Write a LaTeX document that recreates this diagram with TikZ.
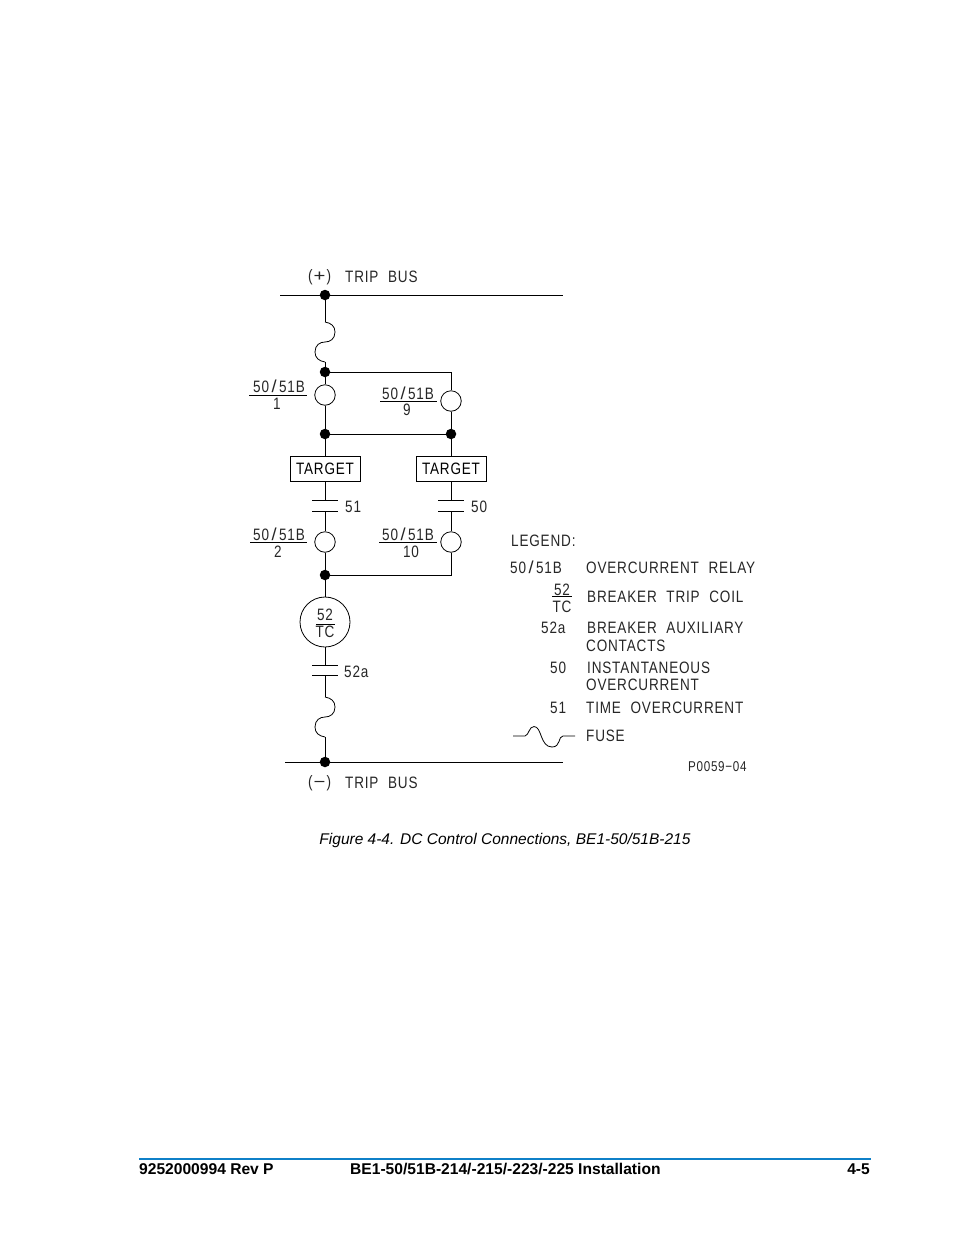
\documentclass[tikz,border=0pt]{standalone}
\usepackage{fontspec}
\usepackage{graphicx}
\setmainfont{Liberation Sans}
\newfontfamily\cadfont[FakeStretch=0.82,LetterSpace=5,WordSpace=2.1]{Liberation Sans}
\usetikzlibrary{calc}
\definecolor{footblue}{HTML}{0F80C8}
\newcommand{\relayname}{50\kern2.5pt\scalebox{1.35}[1.05]{/}\kern2.5pt 51B}
\newcommand{\wideglyph}[1]{(\kern1pt\scalebox{1.5}[1]{#1}\kern1pt)}
\tikzset{
 wire/.style={line width=1pt,black},
 thin wire/.style={line width=0.8pt,black},
 dot/.style={circle,fill=black,inner sep=0pt,minimum size=10.5pt},
 relay/.style={circle,draw,line width=0.8pt,inner sep=0pt,minimum size=20.5pt},
 coil/.style={circle,draw,line width=0.8pt,inner sep=0pt,minimum size=50pt},
 targetbox/.style={draw,line width=1pt,minimum width=70pt,minimum height=25pt,inner sep=0pt,font=\cadfont\fontsize{16.5}{18}\selectfont},
 cad/.style={font=\cadfont\fontsize{16.5}{18}\selectfont,inner sep=0pt,text=black!85},
 cadw/.style={cad,anchor=west},
 cade/.style={cad,anchor=east},
 foot/.style={font=\bfseries\fontsize{15.6}{18}\selectfont,inner sep=0pt,anchor=base west},
}
\newcommand{\fusepath}[2]{% vertical fuse, 40 px tall
 \draw[thin wire] (#1) .. controls ($(#1)+(6,1)$) and ($(#1)+(10,4)$) .. ($(#1)+(10,10)$)
   .. controls ($(#1)+(10,17)$) and ($(#1)+(5,20)$) .. ($(#1)+(0,20)$)
   .. controls ($(#1)+(-5,20)$) and ($(#1)+(-10,23)$) .. ($(#1)+(-10,30)$)
   .. controls ($(#1)+(-10,36)$) and ($(#1)+(-6,39)$) .. (#2);}
\begin{document}
\begin{tikzpicture}[x=1pt,y=-1pt]
\useasboundingbox (0,0) rectangle (954,1235);
% bus bars
\coordinate (tl) at (280,295); \coordinate (tr) at (563,295);
\coordinate (bl) at (285,762); \coordinate (br) at (563,762);
\draw[wire] (tl) -- (tr);
\draw[wire] (bl) -- (br);
% junctions
\node[dot] (j1) at (325,295) {};
\node[dot] (j2) at (325,372) {};
\node[dot] (j3) at (325,434) {};
\node[dot] (j4) at (451,434) {};
\node[dot] (j5) at (325,575) {};
\node[dot] (j6) at (325,762) {};
% relays
\node[relay] (r1) at (325,395) {};
\node[relay] (r9) at (451,401) {};
\node[relay] (r2) at (325,542) {};
\node[relay] (r10) at (451,542) {};
% targets
\node[targetbox] (t1) at (325,468.5) {TARGET};
\node[targetbox] (t2) at (451,468.5) {TARGET};
% coil
\node[coil] (c) at (325,622) {};
\node[cad] at (325,615) {52};
\node[cad] at (325,632) {TC};
\coordinate (cl) at (316,624); \coordinate (cr) at (335,624);
\draw[thin wire] (cl) -- (cr);
% fuses
\coordinate (f1a) at (325,322); \coordinate (f1b) at (325,362);
\coordinate (f2a) at (325,697); \coordinate (f2b) at (325,737);
\fusepath{f1a}{f1b}
\fusepath{f2a}{f2b}
% contacts
\coordinate (p1u) at (325,500); \coordinate (p1d) at (325,511);
\coordinate (p2u) at (451,500); \coordinate (p2d) at (451,511);
\coordinate (p3u) at (325,665); \coordinate (p3d) at (325,675);
\foreach \p in {p1u,p1d,p2u,p2d,p3u,p3d}
  \draw[wire] ($(\p)+(-13,0)$) -- ($(\p)+(13,0)$);
% connectors
\draw[wire] (j1) -- (f1a);
\draw[wire] (f1b) -- (j2);
\draw[wire] (j2) -- (r1);
\draw[wire] (j2) -| (r9);
\draw[wire] (r1) -- (j3);
\draw[wire] (r9) -- (j4);
\draw[wire] (j3) -- (j4);
\draw[wire] (j3) -- (t1);
\draw[wire] (j4) -- (t2);
\draw[wire] (t1) -- (p1u);
\draw[wire] (t2) -- (p2u);
\draw[wire] (p1d) -- (r2);
\draw[wire] (p2d) -- (r10);
\draw[wire] (r2) -- (j5);
\draw[wire] (r10) |- (j5);
\draw[wire] (j5) -- (c);
\draw[wire] (c) -- (p3u);
\draw[wire] (p3d) -- (f2a);
\draw[wire] (f2b) -- (j6);
% bus labels
\node[cadw] (pl) at (308,277) {\wideglyph{+}};
\node[cadw] (ptb) at (345,277) {TRIP BUS};
\node[cadw] (ml) at (308,783) {\wideglyph{−}};
\node[cadw] (mtb) at (345,783) {TRIP BUS};
% relay labels
\node[cad] at (279,386) {\relayname};
\draw[thin wire] (249,395) -- (307,395);
\node[cad] at (277,404) {1};
\node[cad] at (408,393) {\relayname};
\draw[thin wire] (380,401.5) -- (437,401.5);
\node[cad] at (407,410) {9};
\node[cad] at (279,534) {\relayname};
\draw[thin wire] (250,542.5) -- (307,542.5);
\node[cad] at (278,552) {2};
\node[cad] at (408,534) {\relayname};
\draw[thin wire] (379,542.5) -- (437,542.5);
\node[cad] at (411,552) {10};
\node[cadw] at (345,507) {51};
\node[cadw] at (471,507) {50};
\node[cadw] at (344,672) {52a};
% legend
\node[cadw] at (511,540.5) {LEGEND:};
\node[cadw] at (510,567.5) {\relayname};
\node[cadw] at (586,567.5) {OVERCURRENT RELAY};
\node[cad] at (562,590) {52};
\draw[thin wire] (552,596.5) -- (572,596.5);
\node[cad] at (562,607) {TC};
\node[cadw] at (587,597) {BREAKER TRIP COIL};
\node[cadw] at (541,628) {52a};
\node[cadw] at (587,628) {BREAKER AUXILIARY};
\node[cadw] at (586,645.5) {CONTACTS};
\node[cadw] at (550,667.5) {50};
\node[cadw] at (587,667.5) {INSTANTANEOUS};
\node[cadw] at (586,685) {OVERCURRENT};
\node[cadw] at (550,708) {51};
\node[cadw] at (586,708) {TIME OVERCURRENT};
\node[cadw] at (586,736) {FUSE};
\coordinate (lf0) at (513,736); \coordinate (lf1) at (525,736);
\coordinate (lf2) at (563,736); \coordinate (lf3) at (575,736);
\draw[thin wire] (lf0) -- (lf1)
  .. controls (529,735) and (529,726.5) .. (534,726.5)
  .. controls (542,726.5) and (540,747) .. (552,747)
  .. controls (561,747) and (558,736) .. (lf2) -- (lf3);
\node[cadw,font=\cadfont\fontsize{14.2}{15}\selectfont] at (688,767) {P0059−04};
% caption
\node[inner sep=0pt,font=\itshape\fontsize{15.5}{18}\selectfont] (cap) at (505,840.5) {Figure 4-4. DC Control Connections, BE1-50/51B-215};
% footer
\coordinate (fa) at (139,1159); \coordinate (fb) at (871,1159);
\draw[footblue,line width=1.2pt] (fa) -- (fb);
\node[foot] at (139,1174) {9252000994 Rev P};
\node[foot] at (350,1174) {BE1-50/51B-214/-215/-223/-225 Installation};
\node[foot,anchor=base east] at (870,1174) {4-5};
\end{tikzpicture}
\end{document}
